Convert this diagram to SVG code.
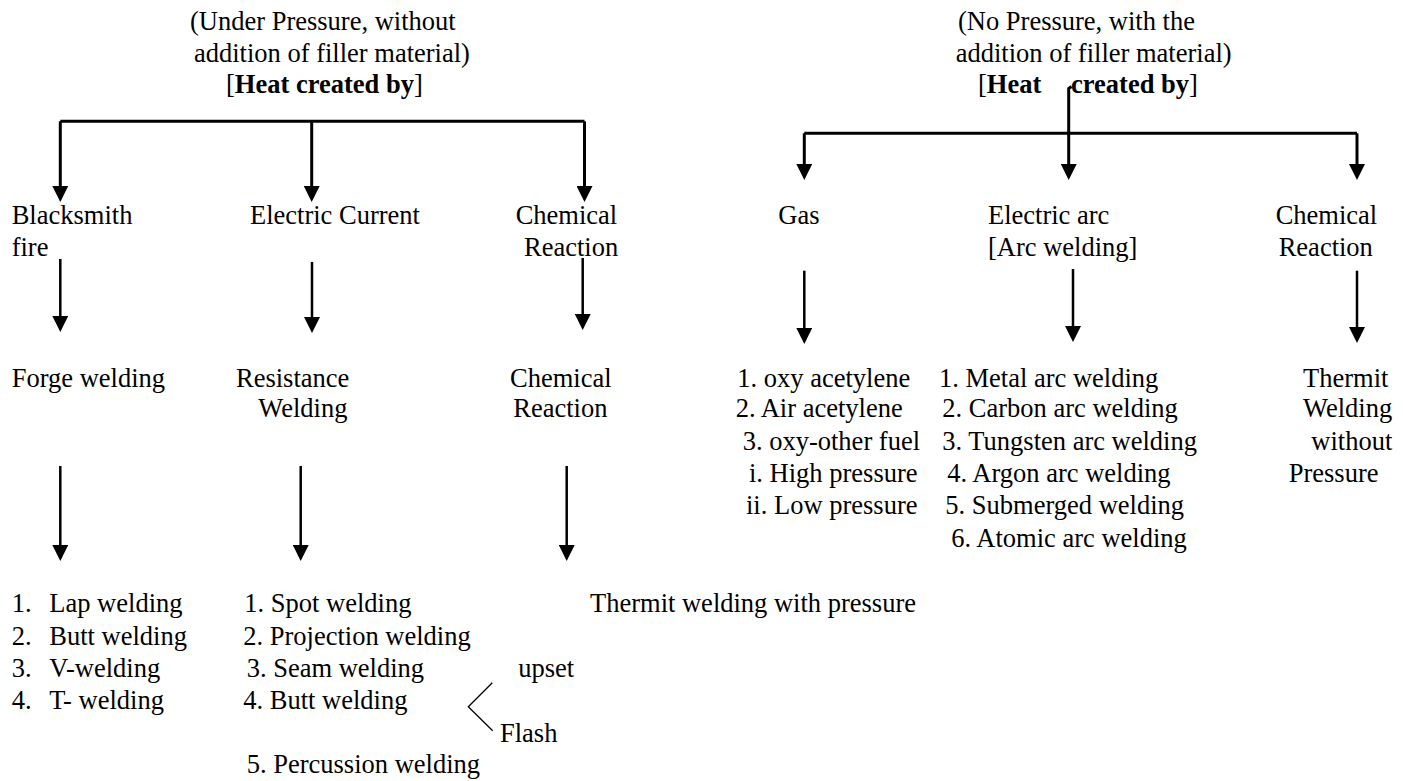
<svg xmlns="http://www.w3.org/2000/svg" width="1403" height="781" viewBox="0 0 1403 781">
<style>
text{font-family:"Liberation Serif","Times New Roman",serif;font-size:26.5px;fill:#000}
.b{font-weight:bold}
.c{fill:none;stroke:#000;stroke-width:3}
.t{fill:none;stroke:#000;stroke-width:2.5}
.thin{fill:none;stroke:#000;stroke-width:1.3}
</style>
<defs>
<marker id="ah" markerUnits="userSpaceOnUse" viewBox="0 0 16 16" refX="1" refY="8" markerWidth="16" markerHeight="16" orient="auto">
<path d="M0,0 L16,8 L0,16 Z" fill="#000"/>
</marker>
</defs>
<rect width="1403" height="781" fill="#fff"/>

<g id="connectors">
<path class="c" d="M60.3,121.3 H584.5"/>
<path class="c" d="M60.3,121.3 V187" marker-end="url(#ah)"/>
<path class="c" d="M311.7,121.3 V187" marker-end="url(#ah)"/>
<path class="c" d="M584.5,121.3 V187" marker-end="url(#ah)"/>
<path class="t" d="M60.3,259 V317" marker-end="url(#ah)"/>
<path class="t" d="M312,262 V318" marker-end="url(#ah)"/>
<path class="t" d="M582.7,258 V315" marker-end="url(#ah)"/>
<path class="t" d="M60.3,466 V546" marker-end="url(#ah)"/>
<path class="t" d="M300.7,466 V546" marker-end="url(#ah)"/>
<path class="t" d="M566.7,466 V546" marker-end="url(#ah)"/>
<path class="c" d="M804.3,133.3 H1357"/>
<path class="c" d="M804.3,133.3 V165" marker-end="url(#ah)"/>
<path class="c" d="M1071.5,86.5 L1068.7,88.5 V165" marker-end="url(#ah)"/>
<path class="c" d="M1357,133.3 V165" marker-end="url(#ah)"/>
<path class="t" d="M804.3,270.7 V329" marker-end="url(#ah)"/>
<path class="t" d="M1073,269 V327" marker-end="url(#ah)"/>
<path class="t" d="M1357,270.7 V328" marker-end="url(#ah)"/>
<polyline class="thin" points="492.3,682.7 468.3,706.7 492.7,730.7"/>
</g>

<g id="head-left">
<text x="190" y="29.5">(Under Pressure, without</text>
<text x="194" y="61.7">addition of filler material)</text>
<text x="226" y="93">[<tspan class="b">Heat created by</tspan>]</text>
</g>
<g id="head-right">
<text x="958" y="29.5">(No Pressure, with the</text>
<text x="955.7" y="61.7">addition of filler material)</text>
<text x="978" y="93">[<tspan class="b">Heat</tspan></text>
<text x="1071" y="93"><tspan class="b">created by</tspan>]</text>
</g>

<g id="blacksmith"><text x="11.7" y="224">Blacksmith</text><text x="11.7" y="256">fire</text></g>
<g id="electric-current"><text x="250" y="224">Electric Current</text></g>
<g id="chem1"><text x="515.7" y="224">Chemical</text><text x="524" y="256">Reaction</text></g>
<g id="gas"><text x="778.3" y="224">Gas</text></g>
<g id="electric-arc"><text x="988" y="224">Electric arc</text><text x="988" y="256">[Arc welding]</text></g>
<g id="chem2"><text x="1275.7" y="224">Chemical</text><text x="1278.7" y="256">Reaction</text></g>

<g id="forge"><text x="11.7" y="387">Forge welding</text></g>
<g id="resistance"><text x="236" y="387">Resistance</text><text x="258.3" y="417.3">Welding</text></g>
<g id="chem-reaction"><text x="510" y="387">Chemical</text><text x="513.3" y="417.3">Reaction</text></g>
<g id="gas-list">
<text x="737.3" y="387">1. oxy acetylene</text>
<text x="735.7" y="417.3">2. Air acetylene</text>
<text x="742.7" y="450">3. oxy-other fuel</text>
<text x="749" y="482.3">i. High pressure</text>
<text x="746" y="514">ii. Low pressure</text>
</g>
<g id="arc-list">
<text x="939" y="387">1. Metal arc welding</text>
<text x="942.3" y="417.3">2. Carbon arc welding</text>
<text x="942.3" y="450">3. Tungsten arc welding</text>
<text x="947.3" y="482.3">4. Argon arc welding</text>
<text x="945.3" y="514">5. Submerged welding</text>
<text x="951.3" y="546.7">6. Atomic arc welding</text>
</g>
<g id="thermit-no-pressure">
<text x="1303" y="387">Thermit</text>
<text x="1303" y="417.3">Welding</text>
<text x="1311.3" y="450">without</text>
<text x="1288.7" y="482.3">Pressure</text>
</g>

<g id="forge-list">
<text x="11.7" y="611.7">1.<tspan x="49.3">Lap welding</tspan></text>
<text x="11.7" y="645">2.<tspan x="49.3">Butt welding</tspan></text>
<text x="11.7" y="676.7">3.<tspan x="49.3">V-welding</tspan></text>
<text x="11.7" y="709.3">4.<tspan x="49.3">T- welding</tspan></text>
</g>
<g id="resistance-list">
<text x="244.3" y="611.7">1. Spot welding</text>
<text x="243.3" y="645">2. Projection welding</text>
<text x="246.7" y="676.7">3. Seam welding</text>
<text x="243.3" y="709.3">4. Butt welding</text>
<text x="246.7" y="772.7">5. Percussion welding</text>
</g>
<g id="butt-types">
<text x="518.3" y="677.3">upset</text>
<text x="500" y="741.7">Flash</text>
</g>
<g id="thermit-pressure"><text x="590" y="611.7">Thermit welding with pressure</text></g>
</svg>
